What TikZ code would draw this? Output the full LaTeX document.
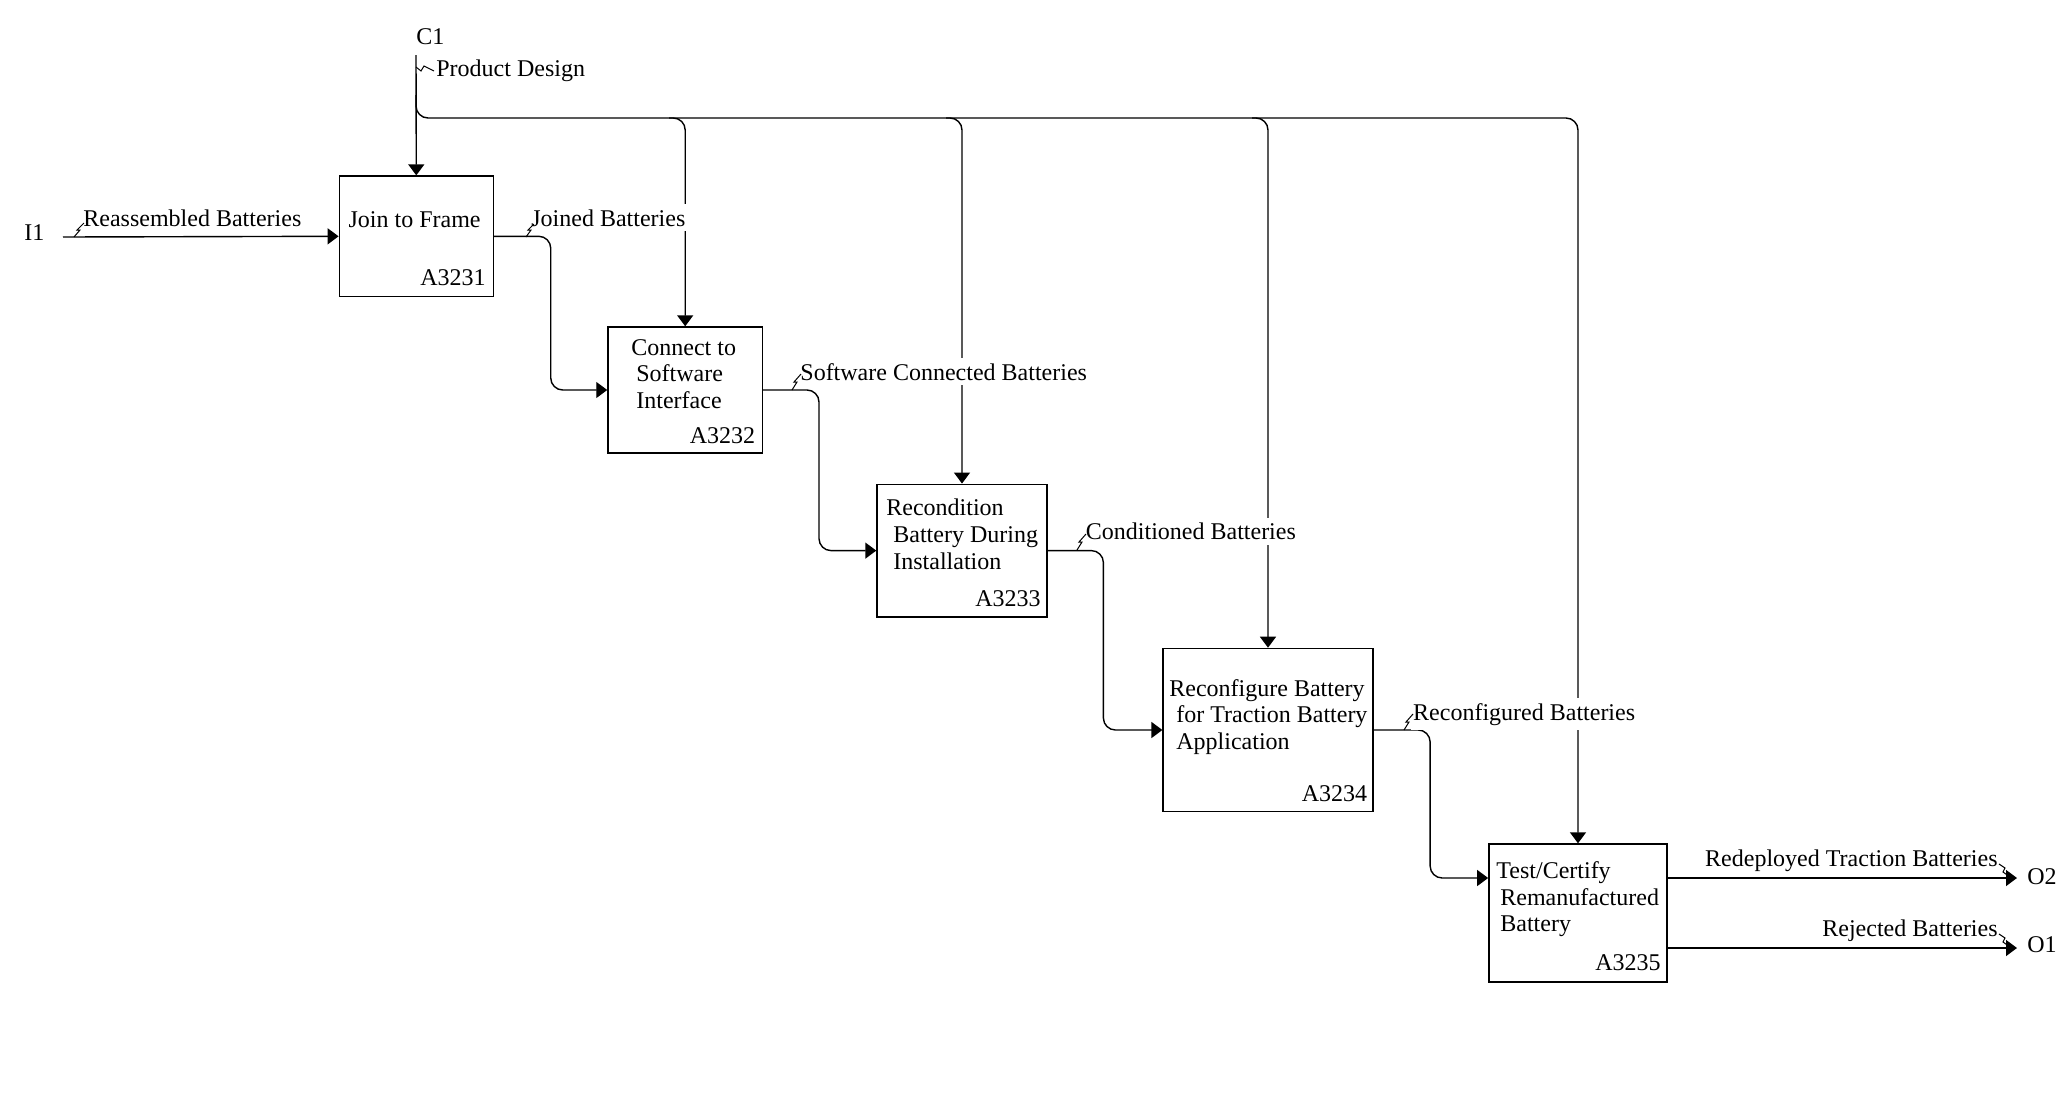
\documentclass[tikz,border=0pt]{standalone}
\usepackage{fontspec}
\setmainfont{Liberation Serif}
\usetikzlibrary{arrows.meta,calc}
\begin{document}
\begin{tikzpicture}[x=0.5pt,y=-0.5pt,
  ln/.style={line width=0.7pt},
  flow/.style={ln,-{Triangle[length=5.5pt,width=8pt]}},
  box/.style={draw,line width=0.7pt,inner sep=0pt},
  lbl/.style={inner sep=0pt,font=\fontsize{12}{13.35}\selectfont},
  albl/.style={lbl,fill=white,inner xsep=1pt,inner ysep=2.5pt},
  sq/.style={line width=0.5pt},
  rc/.style={rounded corners=6pt}]
\useasboundingbox (0,0) rectangle (2058,1104);

% boxes
\node[box,minimum width=77pt,minimum height=60.25pt] (b1) at (416.3,236.3) {};
\node[box,minimum width=77.25pt,minimum height=63pt] (b2) at (685.2,390) {};
\node[box,minimum width=85pt,minimum height=66.35pt] (b3) at (962,550.6) {};
\node[box,minimum width=104.9pt,minimum height=81.6pt] (b4) at (1268,730) {};
\node[box,minimum width=89.15pt,minimum height=69pt] (b5) at (1578,913) {};

% box texts
\node[lbl,anchor=base] (t1a) at (414.6,227.5) {Join to Frame};
\node[lbl,anchor=base east] (id1) at (486,285) {A3231};
\node[lbl,anchor=base west] (t2a) at (631,355) {Connect to};
\node[lbl,anchor=base west] (t2b) at (636,381.5) {Software};
\node[lbl,anchor=base west] (t2c) at (636,408) {Interface};
\node[lbl,anchor=base east] (id2) at (755.5,443.3) {A3232};
\node[lbl,anchor=base west] (t3a) at (886,515) {Recondition};
\node[lbl,anchor=base west] (t3b) at (893,542.5) {Battery During};
\node[lbl,anchor=base west] (t3c) at (893,569) {Installation};
\node[lbl,anchor=base east] (id3) at (1041,606) {A3233};
\node[lbl,anchor=base west] (t4a) at (1169,696) {Reconfigure Battery};
\node[lbl,anchor=base west] (t4b) at (1176,722.5) {for Traction Battery};
\node[lbl,anchor=base west] (t4c) at (1176,749) {Application};
\node[lbl,anchor=base east] (id4) at (1367.6,801.7) {A3234};
\node[lbl,anchor=base west] (t5a) at (1496,878) {Test/Certify};
\node[lbl,anchor=base west] (t5b) at (1500,905) {Remanufactured};
\node[lbl,anchor=base west] (t5c) at (1500,931.5) {Battery};
\node[lbl,anchor=base east] (id5) at (1661,970) {A3235};

% boundary labels
\node[lbl,anchor=base west] (C1) at (416,44) {C1};
\node[lbl,anchor=base west] (I1) at (24,240) {I1};
\node[lbl,anchor=base west] (O2) at (2027,884) {O2};
\node[lbl,anchor=base west] (O1) at (2027,952) {O1};

% coordinates
\coordinate (c1s) at (416,55);
\coordinate (c1b) at (416,95);
\coordinate (hy) at (0,118);
\coordinate (i1) at (63,237);
\coordinate (o2) at (2017,878);
\coordinate (o1) at (2017,948);

% control
\draw[flow] (c1s) -- (b1.north);
\draw[flow,rc] (c1b) |- (b5.north |- hy) -- (b5.north);
\draw[flow,rc] ($(b2.north |- hy)+(-16,0)$) -| (b2.north);
\draw[flow,rc] ($(b3.north |- hy)+(-16,0)$) -| (b3.north);
\draw[flow,rc] ($(b4.north |- hy)+(-16,0)$) -| (b4.north);

% input
\draw[flow] (i1) -- (b1.west);

% flows between boxes
\draw[flow,rc] (b1.east) -| ($(b2.west)+(-56.5,0)$) -- (b2.west);
\draw[flow,rc] (b2.east) -| ($(b3.west)+(-57.3,0)$) -- (b3.west);
\draw[flow,rc] (b3.east) -| ($(b4.west)+(-59,0)$) -- (b4.west);
\draw[flow,rc] (b4.east) -| ($(b5.west)+(-58,-35)$) -- ($(b5.west)+(0,-35)$);

% outputs
\draw[flow] ($(b5.east)+(0,-35)$) -- (o2);
\draw[flow] ($(b5.east)+(0,35)$) -- (o1);

% arrow labels (white background interrupts crossing lines)
\node[albl,anchor=base west] (lpd) at (434,76) {Product Design};
\node[albl,anchor=base west] (lra) at (81,226) {Reassembled Batteries};
\node[albl,anchor=base west] (ljo) at (529,226) {Joined Batteries};
\node[albl,anchor=base west] (lsc) at (798,380) {Software Connected Batteries};
\node[albl,anchor=base west] (lco) at (1083.5,539.5) {Conditioned Batteries};
\node[albl,anchor=base west] (lrc) at (1410.8,720) {Reconfigured Batteries};
\node[albl,anchor=base east] (lrd) at (2000,866.7) {Redeployed Traction Batteries};
\node[albl,anchor=base east] (lrj) at (2000,936) {Rejected Batteries};

% squiggles
\draw[sq] (416,67) -- (421,71) -- (424,66) -- (434,71);
\draw[sq] (74,237) -- (80,230) -- (77,230) -- (84,223);
\draw[sq] (526,237) -- (531,230) -- (528,230) -- (534,224);
\draw[sq] (792,390) -- (797,382) -- (794,382) -- (801,374);
\draw[sq] (1077,550) -- (1082,542) -- (1079,542) -- (1086,534);
\draw[sq] (1404,730) -- (1409,722) -- (1406,722) -- (1413,714);
\draw[sq] (1999,864) -- (2005,868) -- (2003,872) -- (2010,877);
\draw[sq] (1999,934) -- (2005,938) -- (2003,942) -- (2010,947);
\end{tikzpicture}
\end{document}
